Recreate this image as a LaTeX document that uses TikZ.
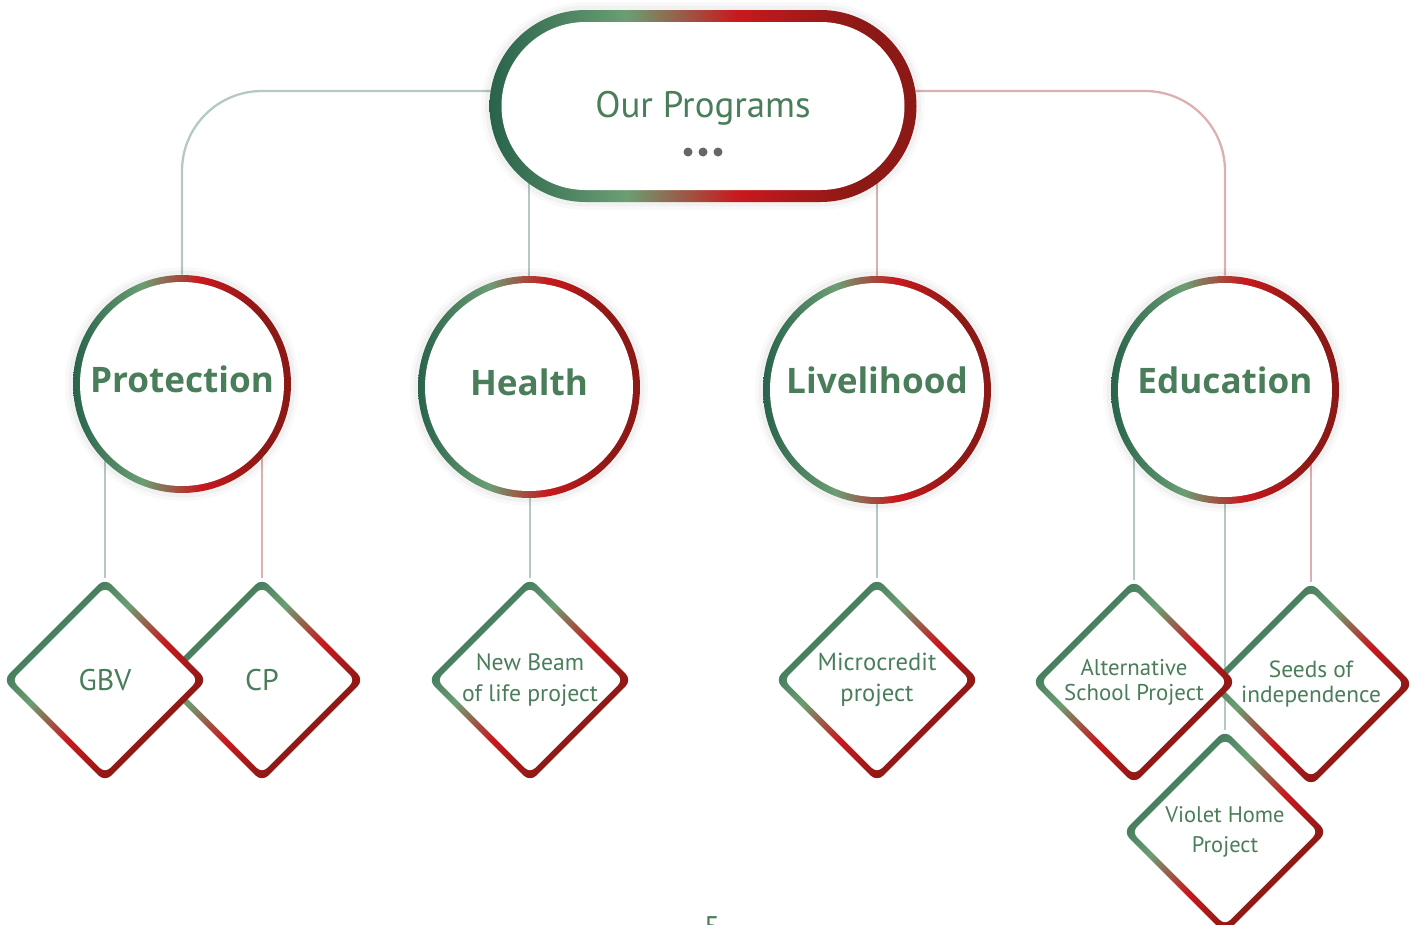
\documentclass[tikz,border=0pt]{standalone}
\usepackage{fontspec}
\setmainfont{PT Sans}
\newfontfamily\headfont{Open Sans}
\usetikzlibrary{shapes.geometric,backgrounds}

\definecolor{pgdark}{HTML}{28634B}
\definecolor{pglight}{HTML}{6B9E73}
\definecolor{pgred}{HTML}{C8191E}
\definecolor{pgdarkred}{HTML}{8C1915}
\definecolor{textgreen}{HTML}{4A7D5A}
\definecolor{linkgreen}{HTML}{B4CAC1}
\definecolor{linkred}{HTML}{DCB0B0}
\definecolor{dotgrey}{HTML}{666666}

\pgfdeclarehorizontalshading{ringshade}{100bp}{color(0bp)=(pgdark); color(25bp)=(pgdark); color(41bp)=(pglight); color(54bp)=(pgred); color(68bp)=(pgdarkred); color(100bp)=(pgdarkred)}

\def\pxu{0.02cm}

\tikzset{
  glow/.style={preaction={draw=black, draw opacity=0.025, line width=9pt},
    preaction={draw=black, draw opacity=0.03, line width=5pt}},
  pill/.style={rectangle, minimum width=427*\pxu, minimum height=192*\pxu, inner sep=0pt,
    rounded corners=96*\pxu, shading=ringshade, glow, text=textgreen,
    text height=18pt, text depth=4.5pt, font=\fontsize{21}{24}\selectfont,
    path picture={\fill[white, rounded corners=84*\pxu]
      ([shift={(12*\pxu,12*\pxu)}]path picture bounding box.south west) rectangle
      ([shift={(-12*\pxu,-12*\pxu)}]path picture bounding box.north east);}},
  ring/.style={circle, minimum size=#1*\pxu, inner sep=0pt, shading=ringshade, glow,
    text=textgreen, text depth=5pt, font=\headfont\bfseries\fontsize{20}{24}\selectfont,
    path picture={\fill[white] (path picture bounding box.center) circle[radius=#1/2*\pxu-7*\pxu];}},
  proj/.style={diamond, aspect=1, minimum size=204*\pxu, inner sep=0pt, rounded corners=5pt,
    shading=ringshade, shading angle=-45, text=textgreen, align=center,
    font=\fontsize{14}{18}\selectfont,
    path picture={\fill[white, rounded corners=4pt] (path picture bounding box.center)
      ++(0,93*\pxu) -- ++(93*\pxu,-93*\pxu) -- ++(-93*\pxu,-93*\pxu) -- ++(-93*\pxu,93*\pxu) -- cycle;}},
  greenlink/.style={draw=linkgreen, line width=1.3pt},
  redlink/.style={draw=linkred, line width=1.3pt},
}

\begin{document}
\begin{tikzpicture}[x=\pxu,y=\pxu]
\useasboundingbox (0,0) rectangle (1418,-924);

% top
\node[pill] (ourprog) at (703,-106) {Our Programs};
\foreach \dx in {-15,0,15}
  \fill[dotgrey] (703+\dx,-152) circle[radius=4.5*\pxu];

% programs
\node[ring=218] (protection) at (182,-384) {Protection};
\node[ring=222] (health) at (529,-387) {Health};
\node[ring=228, text depth=11pt] (livelihood) at (877,-390) {Livelihood};
\node[ring=228, text depth=11pt] (education) at (1225,-390) {Education};

% projects
\node[proj, font=\fontsize{17}{20}\selectfont] (cp) at (262,-680) {CP};
\node[proj, font=\fontsize{17}{20}\selectfont] (gbv) at (105,-680) {GBV};
\node[proj, font=\fontsize{13.5}{18}\selectfont] (newbeam) at (530,-680) {New Beam\\of life project};
\node[proj] (microcredit) at (877,-680) {Microcredit\\project};
\node[proj, font=\fontsize{13.3}{14}\selectfont] (seeds) at (1311,-684) {Seeds of\\independence};
\node[proj, font=\fontsize{13}{14}\selectfont] (altschool) at (1134,-682) {Alternative\\School Project};
\node[proj, font=\fontsize{12.8}{17}\selectfont] (violet) at (1225,-832) {Violet Home\\Project};

\node[anchor=base, text=textgreen, font=\fontsize{17}{20}\selectfont] (pagenum) at (712,-937) {5};

\begin{pgfonlayer}{background}
\fill[white] (0,0) rectangle (1418,-924);
\draw[greenlink, rounded corners=80*\pxu] ([yshift=15*\pxu]ourprog.center) -| (protection.north);
\draw[redlink, rounded corners=80*\pxu] ([yshift=15*\pxu]ourprog.center) -| (education.north);
\draw[greenlink] (health.north |- ourprog.center) -- (health.north);
\draw[redlink] (livelihood.north |- ourprog.center) -- (livelihood.north);
\draw[greenlink] (gbv.north |- protection.center) -- (gbv.north);
\draw[redlink] (cp.north |- protection.center) -- (cp.north);
\draw[greenlink] (newbeam.north |- health.center) -- (newbeam.north);
\draw[greenlink] (microcredit.north |- livelihood.center) -- (microcredit.north);
\draw[greenlink] (altschool.north |- education.center) -- (altschool.north);
\draw[greenlink] (violet.north |- education.center) -- (violet.north);
\draw[redlink] (seeds.north |- education.center) -- (seeds.north);
\end{pgfonlayer}
\end{tikzpicture}
\end{document}
